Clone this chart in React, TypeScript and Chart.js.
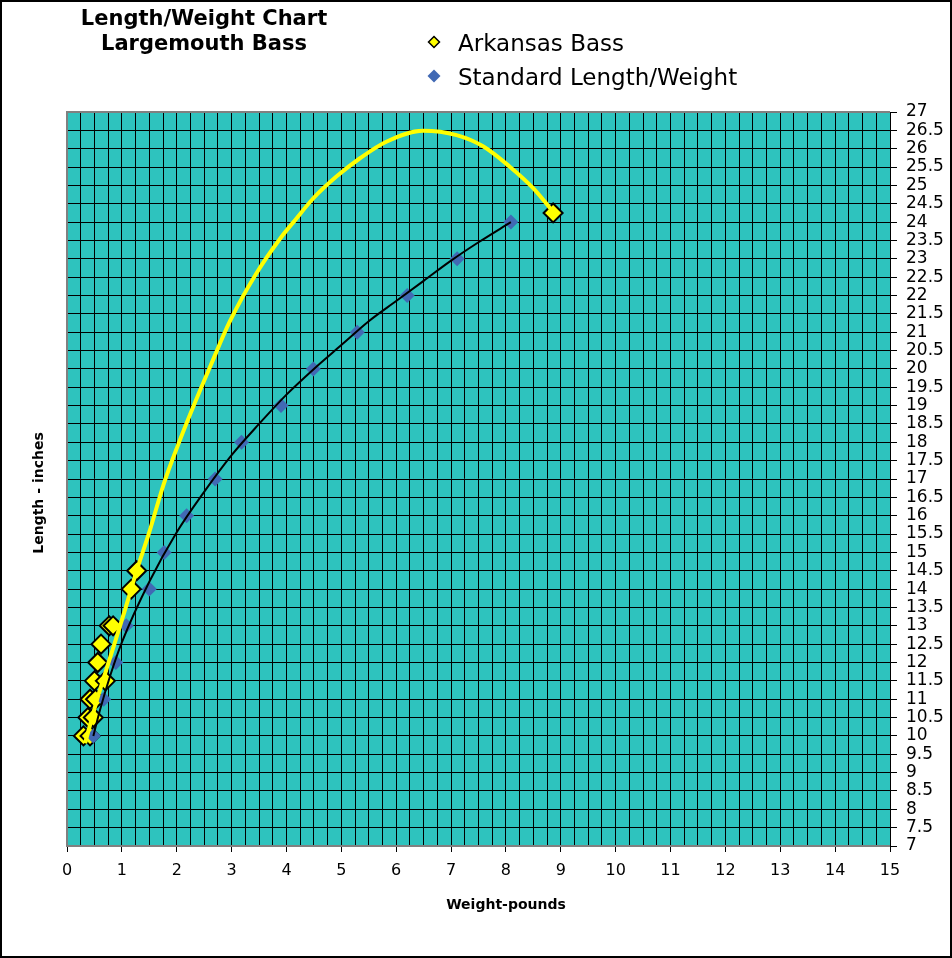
import { useEffect, useRef } from "react"
import { Chart, registerables } from "chart.js"

Chart.register(...registerables)

// Arkansas Bass catches: weight (lb) and length (in)
const bassWeights = [0.3, 0.42, 0.38, 0.48, 0.42, 0.52, 0.5, 0.7, 0.56, 0.62, 0.77, 0.84, 1.17, 1.27, 8.86]
const bassLengths = [10, 10, 10.5, 10.5, 11, 11, 11.5, 11.5, 12, 12.5, 13, 13, 14, 14.5, 24.25]

// Standard length/weight table
const standardWeights = [0.48, 0.67, 0.89, 1.08, 1.5, 1.77, 2.18, 2.7, 3.18, 3.9, 4.49, 5.29, 6.2, 7.11, 8.09]
const standardLengths = [10, 11, 12, 13, 14, 15, 16, 17, 18, 19, 20, 21, 22, 23, 24]

// Arkansas Bass trend curve
const trendWeights = [0.33, 0.55, 0.8, 1.05, 1.27, 1.5, 1.76, 2.03, 2.31, 2.62, 2.97, 3.45, 3.91, 4.16, 4.49, 4.91, 5.34, 5.82, 6.49, 7.1, 7.59, 8.07, 8.5, 8.86]
const trendLengths = [9.8, 11.0, 12.2, 13.4, 14.5, 15.55, 16.85, 17.95, 19.0, 20.1, 21.3, 22.6, 23.6, 24.06, 24.65, 25.24, 25.74, 26.19, 26.49, 26.37, 26.06, 25.51, 24.92, 24.28]

// Standard trend curve (black)
const stdTrendWeights = [0.48, 0.6, 0.8, 1.0, 1.5, 2.0, 2.5, 3.0, 3.5, 4.0, 4.5, 5.0, 5.5, 6.0, 6.5, 7.0, 7.5, 8.09]
const stdTrendLengths = [10.0, 10.7, 11.7, 12.55, 14.2, 15.55, 16.65, 17.65, 18.5, 19.3, 20.0, 20.65, 21.3, 21.85, 22.4, 22.95, 23.45, 24.0]

// axis ranges
const xMin = 0
const xMax = 15
const xStep = 0.25
const yMin = 7
const yMax = 27
const yStep = 0.5

const FONT = "'DejaVu Sans', Verdana, sans-serif"
const TEAL = "#2EC3BE"
const YELLOW = "#FFFF00"
const BLUE = "#4169B4"

const isWhole = (v: number | undefined) => v !== undefined && Math.abs(v - Math.round(v)) < 1e-6

const toPoints = (xs: number[], ys: number[]) => xs.map((x, i) => ({ x, y: ys[i] }))

function diamond(ctx: CanvasRenderingContext2D, x: number, y: number, r: number) {
  ctx.beginPath()
  ctx.moveTo(x - r, y)
  ctx.lineTo(x, y - r)
  ctx.lineTo(x + r, y)
  ctx.lineTo(x, y + r)
  ctx.closePath()
}

const decorPlugin = {
  id: "decor",
  beforeDraw(chart: Chart) {
    const { ctx, chartArea: a } = chart
    ctx.save()
    ctx.fillStyle = TEAL
    ctx.fillRect(a.left, a.top, a.right - a.left, a.bottom - a.top)
    ctx.restore()
  },
  beforeDatasetsDraw(chart: Chart) {
    const { ctx, chartArea: a } = chart
    ctx.save()
    ctx.strokeStyle = "#808080"
    ctx.lineWidth = 2
    ctx.beginPath()
    ctx.moveTo(a.left, a.bottom)
    ctx.lineTo(a.left, a.top)
    ctx.lineTo(a.right, a.top)
    ctx.stroke()
    ctx.restore()
  },
  afterDraw(chart: Chart) {
    const { ctx, width, height } = chart
    ctx.save()
    ctx.fillStyle = "#000"

    // title
    ctx.font = `bold 21px ${FONT}`
    ctx.textAlign = "center"
    ctx.textBaseline = "alphabetic"
    ctx.fillText("Length/Weight Chart", 204, 25)
    ctx.fillText("Largemouth Bass", 204, 50)

    // legend
    ctx.font = `23px ${FONT}`
    ctx.textAlign = "left"
    diamond(ctx, 434, 42, 5.5)
    ctx.fillStyle = YELLOW
    ctx.fill()
    ctx.strokeStyle = "#000"
    ctx.lineWidth = 1.5
    ctx.stroke()
    ctx.fillStyle = "#000"
    ctx.fillText("Arkansas Bass", 458, 51)
    diamond(ctx, 434, 76, 6.5)
    ctx.fillStyle = BLUE
    ctx.fill()
    ctx.fillStyle = "#000"
    ctx.fillText("Standard Length/Weight", 458, 85)

    // axis titles
    ctx.font = `bold 14px ${FONT}`
    ctx.textAlign = "center"
    ctx.fillText("Weight-pounds", 506, 909)
    ctx.save()
    ctx.translate(39, 493)
    ctx.rotate(-Math.PI / 2)
    ctx.textBaseline = "middle"
    ctx.fillText("Length - inches", 0, 0)
    ctx.restore()

    // outer frame
    ctx.strokeStyle = "#000"
    ctx.lineWidth = 2
    ctx.strokeRect(1, 1, width - 2, height - 2)
    ctx.restore()
  },
}

export default function App() {
  const chartRef = useRef<HTMLCanvasElement>(null)
  const chartInstance = useRef<Chart | null>(null)

  useEffect(() => {
    if (!chartRef.current) return
    if (chartInstance.current) chartInstance.current.destroy()
    const ctx = chartRef.current.getContext("2d")
    if (!ctx) return

    Chart.defaults.font.family = FONT
    Chart.defaults.color = "#000"

    chartInstance.current = new Chart(ctx, {
      type: "scatter",
      data: {
        datasets: [
          {
            label: "Standard trend",
            data: toPoints(stdTrendWeights, stdTrendLengths),
            showLine: true,
            borderColor: "#000",
            borderWidth: 2,
            pointRadius: 0,
            cubicInterpolationMode: "monotone",
            order: 1,
          },
          {
            label: "Arkansas trend",
            data: toPoints(trendWeights, trendLengths),
            showLine: true,
            borderColor: YELLOW,
            borderWidth: 4,
            pointRadius: 0,
            cubicInterpolationMode: "monotone",
            order: 2,
          },
          {
            label: "Standard Length/Weight",
            data: toPoints(standardWeights, standardLengths),
            pointStyle: "rectRot",
            pointRadius: 7.5,
            backgroundColor: BLUE,
            borderWidth: 0,
            order: 3,
          },
          {
            label: "Arkansas Bass",
            data: toPoints(bassWeights, bassLengths),
            pointStyle: "rectRot",
            pointRadius: 9.5,
            backgroundColor: YELLOW,
            borderColor: "#000",
            borderWidth: 2,
            order: 4,
          },
        ],
      },
      options: {
        animation: false,
        responsive: true,
        maintainAspectRatio: false,
        events: [],
        layout: { padding: { left: 67, top: 112, right: 0, bottom: 0 } },
        plugins: {
          legend: { display: false },
          title: { display: false },
          tooltip: { enabled: false },
        },
        scales: {
          x: {
            type: "linear",
            min: xMin,
            max: xMax,
            ticks: {
              stepSize: xStep,
              autoSkip: false,
              maxRotation: 0,
              padding: 9,
              font: { size: 16 },
              callback: (v) => (isWhole(Number(v)) ? String(v) : ""),
            },
            grid: {
              color: "#000",
              lineWidth: 1,
              tickLength: 6,
              tickColor: (c) => (isWhole(c.tick?.value) ? "#000" : "rgba(0,0,0,0)"),
            },
            border: { color: "#808080", width: 2 },
            afterFit: (s) => {
              s.height = 112
            },
          },
          y: {
            type: "linear",
            position: "right",
            min: yMin,
            max: yMax,
            ticks: {
              stepSize: yStep,
              autoSkip: false,
              padding: 9,
              font: { size: 17 },
              callback: (v) => String(v),
            },
            grid: { color: "#000", lineWidth: 1, tickLength: 7 },
            border: { color: "#000", width: 1 },
            afterFit: (s) => {
              s.width = 62
            },
          },
        },
      },
      plugins: [decorPlugin],
    })

    return () => {
      if (chartInstance.current) {
        chartInstance.current.destroy()
        chartInstance.current = null
      }
    }
  }, [])

  return (
    <div style={{ position: "absolute", left: 0, top: 0, width: 952, height: 958 }}>
      <canvas ref={chartRef} />
    </div>
  )
}
